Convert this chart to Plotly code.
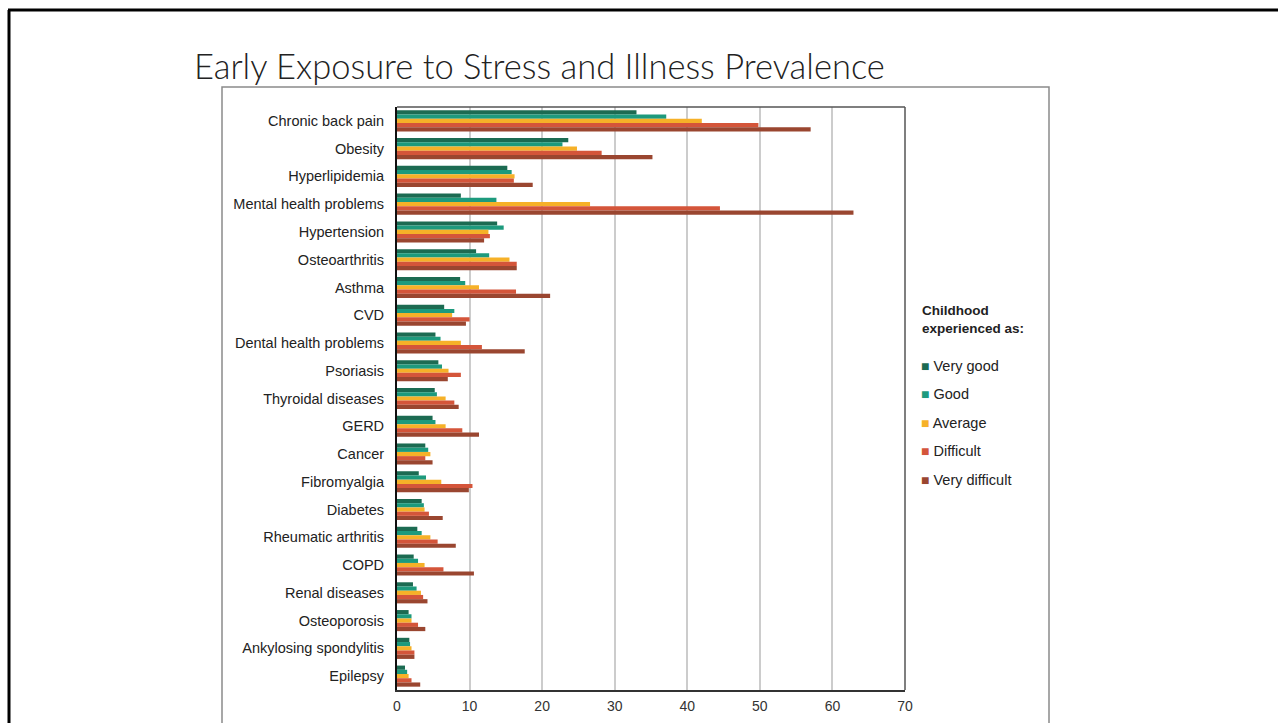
import plotly.graph_objects as go

categories = ["Chronic back pain", "Obesity", "Hyperlipidemia", "Mental health problems",
              "Hypertension", "Osteoarthritis", "Asthma", "CVD", "Dental health problems",
              "Psoriasis", "Thyroidal diseases", "GERD", "Cancer", "Fibromyalgia", "Diabetes",
              "Rheumatic arthritis", "COPD", "Renal diseases", "Osteoporosis",
              "Ankylosing spondylitis", "Epilepsy"]

very_good = [33.0, 23.6, 15.2, 8.8, 13.8, 10.9, 8.7, 6.5, 5.3, 5.7, 5.2, 4.9, 3.9, 3.0, 3.4, 2.8, 2.3, 2.2, 1.6, 1.7, 1.1]
good = [37.1, 22.8, 15.8, 13.7, 14.7, 12.7, 9.4, 7.9, 6.0, 6.2, 5.5, 5.3, 4.3, 4.0, 3.7, 3.4, 2.9, 2.7, 2.0, 1.8, 1.4]
average = [42.0, 24.8, 16.2, 26.6, 12.6, 15.5, 11.3, 7.6, 8.8, 7.1, 6.7, 6.7, 4.6, 6.1, 3.8, 4.6, 3.8, 3.3, 2.0, 2.0, 1.6]
difficult = [49.8, 28.2, 16.1, 44.5, 12.8, 16.5, 16.4, 10.0, 11.7, 8.8, 7.9, 9.0, 3.9, 10.4, 4.4, 5.6, 6.4, 3.6, 2.9, 2.4, 2.0]
very_difficult = [57.0, 35.2, 18.7, 62.9, 12.0, 16.5, 21.1, 9.5, 17.6, 7.0, 8.5, 11.3, 4.9, 9.9, 6.3, 8.1, 10.6, 4.2, 3.9, 2.4, 3.2]

series_names = ["Very good", "Good", "Average", "Difficult", "Very difficult"]
series_values = [very_good, good, average, difficult, very_difficult]
series_colors = ["#1c6b52", "#1d9a7d", "#f6b128", "#d4553a", "#9a4630"]
x_ticks = [0, 10, 20, 30, 40, 50, 60, 70]

W, H = 1278, 723
PL, PR, PT, PB = 397, 905, 107, 690  # plot area in pixels


def px(x):
    return (x - PL) / (PR - PL)


def py(y):
    return (PB - y) / (PB - PT)


fig = go.Figure()
for name, vals, col in zip(series_names, series_values, series_colors):
    fig.add_trace(go.Bar(y=categories, x=vals, name=name, orientation="h",
                         marker=dict(color=col, line=dict(width=0)), showlegend=False))

font_arial = "Liberation Sans, Arial, sans-serif"

fig.update_layout(
    width=W, height=H,
    margin=dict(l=PL, r=W - PR, t=PT, b=H - PB, pad=0, autoexpand=False),
    paper_bgcolor="white", plot_bgcolor="white",
    barmode="group", bargap=0.24, bargroupgap=0,
    font=dict(family=font_arial, size=14, color="#222222"),
    xaxis=dict(range=[0, 70], tickvals=x_ticks, showgrid=True, gridcolor="#cccccc", gridwidth=1.5,
               zeroline=False, showline=True, linecolor="#333333", linewidth=2, mirror=False,
               ticks="", tickfont=dict(size=14, color="#333333"), ticklabelstandoff=2,
               automargin=False),
    yaxis=dict(autorange="reversed", showline=True, linecolor="#111111", linewidth=2, mirror=False,
               ticks="", tickfont=dict(size=14.5, color="#222222"), ticklabelstandoff=8,
               showgrid=False, automargin=False),
)

shapes = [
    # slide frame
    dict(type="line", xref="paper", yref="paper", x0=px(8), x1=px(1290), y0=py(10), y1=py(10),
         line=dict(color="black", width=3)),
    dict(type="line", xref="paper", yref="paper", x0=px(9), x1=px(9), y0=py(10), y1=py(740),
         line=dict(color="black", width=3)),
    # chart box
    dict(type="rect", xref="paper", yref="paper", x0=px(222), x1=px(1049), y0=py(87), y1=py(760),
         line=dict(color="#8a8a8a", width=1.5), fillcolor="rgba(0,0,0,0)", layer="below"),
    # plot area top / right frame
    dict(type="line", xref="paper", yref="paper", x0=0, x1=1, y0=1, y1=1,
         line=dict(color="#555555", width=1.5)),
    dict(type="line", xref="paper", yref="paper", x0=1, x1=1, y0=0, y1=1,
         line=dict(color="#555555", width=1.5)),
]
fig.update_layout(shapes=shapes)

annotations = [
    dict(text="Early Exposure to Stress and Illness Prevalence", xref="paper", yref="paper",
         x=px(192), y=py(88), xanchor="left", yanchor="bottom", showarrow=False,
         font=dict(family="Lato, Open Sans, sans-serif", size=34.5, color="#222222", weight=300)),
    dict(text="<b>Childhood<br>experienced as:</b>", xref="paper", yref="paper",
         x=px(920), y=py(301), xanchor="left", yanchor="top", align="left", showarrow=False,
         font=dict(family=font_arial, size=13.5, color="#222222")),
]
legend_y = [366, 394, 423, 451, 480]
for name, col, yy in zip(series_names, series_colors, legend_y):
    annotations.append(dict(
        text=f'<span style="color:{col};font-size:14px">■</span> {name}', xref="paper", yref="paper",
        x=px(919), y=py(yy), xanchor="left", yanchor="middle", showarrow=False,
        font=dict(family=font_arial, size=14.5, color="#222222")))
fig.update_layout(annotations=annotations)

fig.write_html("out.html")
